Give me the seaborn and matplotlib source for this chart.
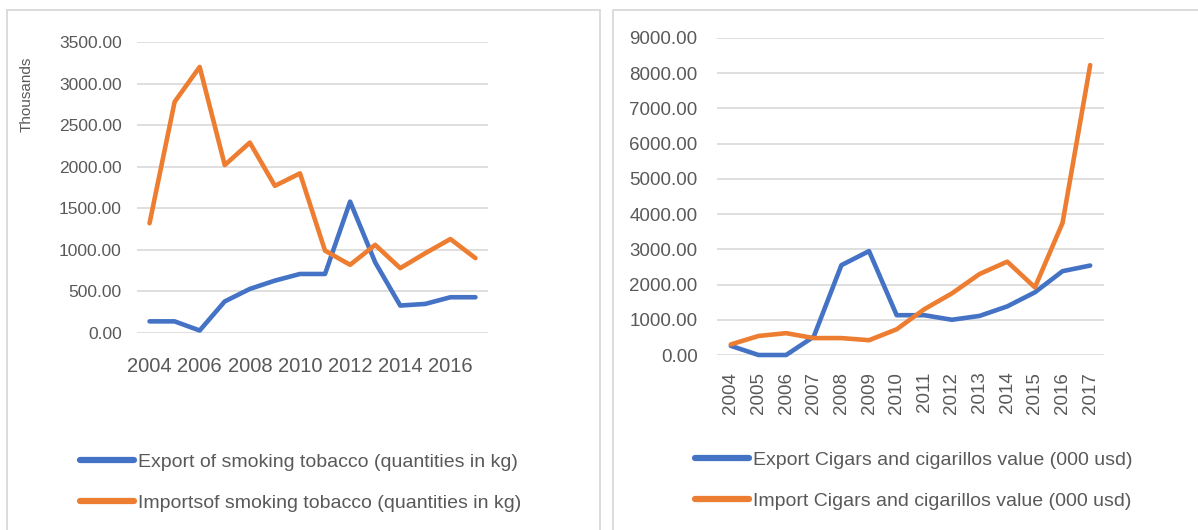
import matplotlib
matplotlib.use("Agg")
import matplotlib.pyplot as plt
import seaborn as sns
import pandas as pd
from matplotlib.patches import Rectangle
from matplotlib.lines import Line2D

years = list(range(2004, 2018))

# Left chart (thousands)
export_tobacco = [140, 140, 30, 380, 530, 630, 710, 710, 1580, 850, 330, 350, 430, 430]
import_tobacco = [1320, 2780, 3200, 2020, 2290, 1770, 1920, 990, 820, 1060, 780, 960, 1130, 900]

# Right chart (000 usd)
export_cigars = [260, 0, 0, 520, 2550, 2950, 1130, 1130, 1000, 1110, 1380, 1780, 2380, 2540]
import_cigars = [300, 540, 620, 480, 480, 420, 730, 1300, 1750, 2300, 2650, 1920, 3750, 8230]

left_labels = ["Export of smoking tobacco (quantities in kg)",
               "Importsof smoking tobacco (quantities in kg)"]
right_labels = ["Export Cigars and cigarillos value (000 usd)",
                "Import Cigars and cigarillos value (000 usd)"]

left_yticks = [0, 500, 1000, 1500, 2000, 2500, 3000, 3500]
right_yticks = [0, 1000, 2000, 3000, 4000, 5000, 6000, 7000, 8000, 9000]
left_xticks = [2004, 2006, 2008, 2010, 2012, 2014, 2016]

BLUE = "#4472C4"
ORANGE = "#ED7D31"
GRID = "#D9D9D9"
TXT = "#595959"

sns.set_theme(style="white")
plt.rcParams['font.family'] = ['Liberation Sans', 'DejaVu Sans']

W, H = 1198, 530
fig = plt.figure(figsize=(W / 100, H / 100), dpi=100)

def rect(x0, x1, ytop, ybot):
    return [x0 / W, 1 - ybot / H, (x1 - x0) / W, (ybot - ytop) / H]

# panel borders
for (x0, x1) in [(7, 600), (613, 1205)]:
    fig.patches.append(Rectangle((x0 / W, -0.05), (x1 - x0) / W, (1 - 10 / H) + 0.05,
                                 transform=fig.transFigure, fill=False,
                                 edgecolor=GRID, linewidth=1.3, zorder=0))

def style_axes(ax, yticks, ymax, ylabsize, ypad):
    ax.set_xlim(2003.5, 2017.5)
    ax.set_ylim(0, ymax)
    ax.set_yticks(yticks)
    ax.set_yticklabels([f"{v:.2f}" for v in yticks])
    for s in ax.spines.values():
        s.set_visible(False)
    ax.grid(axis='y', color=GRID, linewidth=1.2)
    ax.grid(axis='x', visible=False)
    ax.set_axisbelow(True)
    ax.tick_params(axis='y', length=0, pad=ypad, labelsize=ylabsize, labelcolor=TXT)
    ax.set_xlabel("")
    ax.set_ylabel("")
    if ax.get_legend() is not None:
        ax.get_legend().remove()

# Left chart
ax1 = fig.add_axes(rect(137, 488, 42, 333))
df1 = pd.DataFrame({"year": years * 2,
                    "value": export_tobacco + import_tobacco,
                    "series": [left_labels[0]] * 14 + [left_labels[1]] * 14})
sns.lineplot(data=df1, x="year", y="value", hue="series",
             palette=[BLUE, ORANGE], linewidth=3.3, ax=ax1, clip_on=False)
style_axes(ax1, left_yticks, 3500, 12.5, 11)
ax1.set_xticks(left_xticks)
ax1.set_xticklabels([str(y) for y in left_xticks])
ax1.tick_params(axis='x', length=0, pad=17, labelsize=14.5, labelcolor=TXT)
fig.text(27 / W, 1 - 94 / H, "Thousands", rotation=90, ha='center', va='center',
         fontsize=11, color=TXT)

# Right chart
ax2 = fig.add_axes(rect(717, 1104, 38, 355))
df2 = pd.DataFrame({"year": years * 2,
                    "value": export_cigars + import_cigars,
                    "series": [right_labels[0]] * 14 + [right_labels[1]] * 14})
sns.lineplot(data=df2, x="year", y="value", hue="series",
             palette=[BLUE, ORANGE], linewidth=3.3, ax=ax2, clip_on=False)
style_axes(ax2, right_yticks, 9000, 13.5, 14)
ax2.set_xticks(years)
ax2.set_xticklabels([str(y) for y in years], rotation=90)
ax2.tick_params(axis='x', length=0, pad=12, labelsize=13.5, labelcolor=TXT)

# Legends
def add_legend(labels, x_px, y_top_px):
    handles = [Line2D([0], [0], color=BLUE, linewidth=4.5, solid_capstyle='round'),
               Line2D([0], [0], color=ORANGE, linewidth=4.5, solid_capstyle='round')]
    fig.legend(handles, labels, loc='upper left',
               bbox_to_anchor=(x_px / W, 1 - y_top_px / H),
               frameon=False, fontsize=14, labelcolor=TXT,
               handlelength=2.8, handletextpad=0.2, labelspacing=1.2,
               borderpad=0, borderaxespad=0)

add_legend(left_labels, 80, 453)
add_legend(right_labels, 695, 451)

fig.savefig("out.png", dpi=100, facecolor="white")
